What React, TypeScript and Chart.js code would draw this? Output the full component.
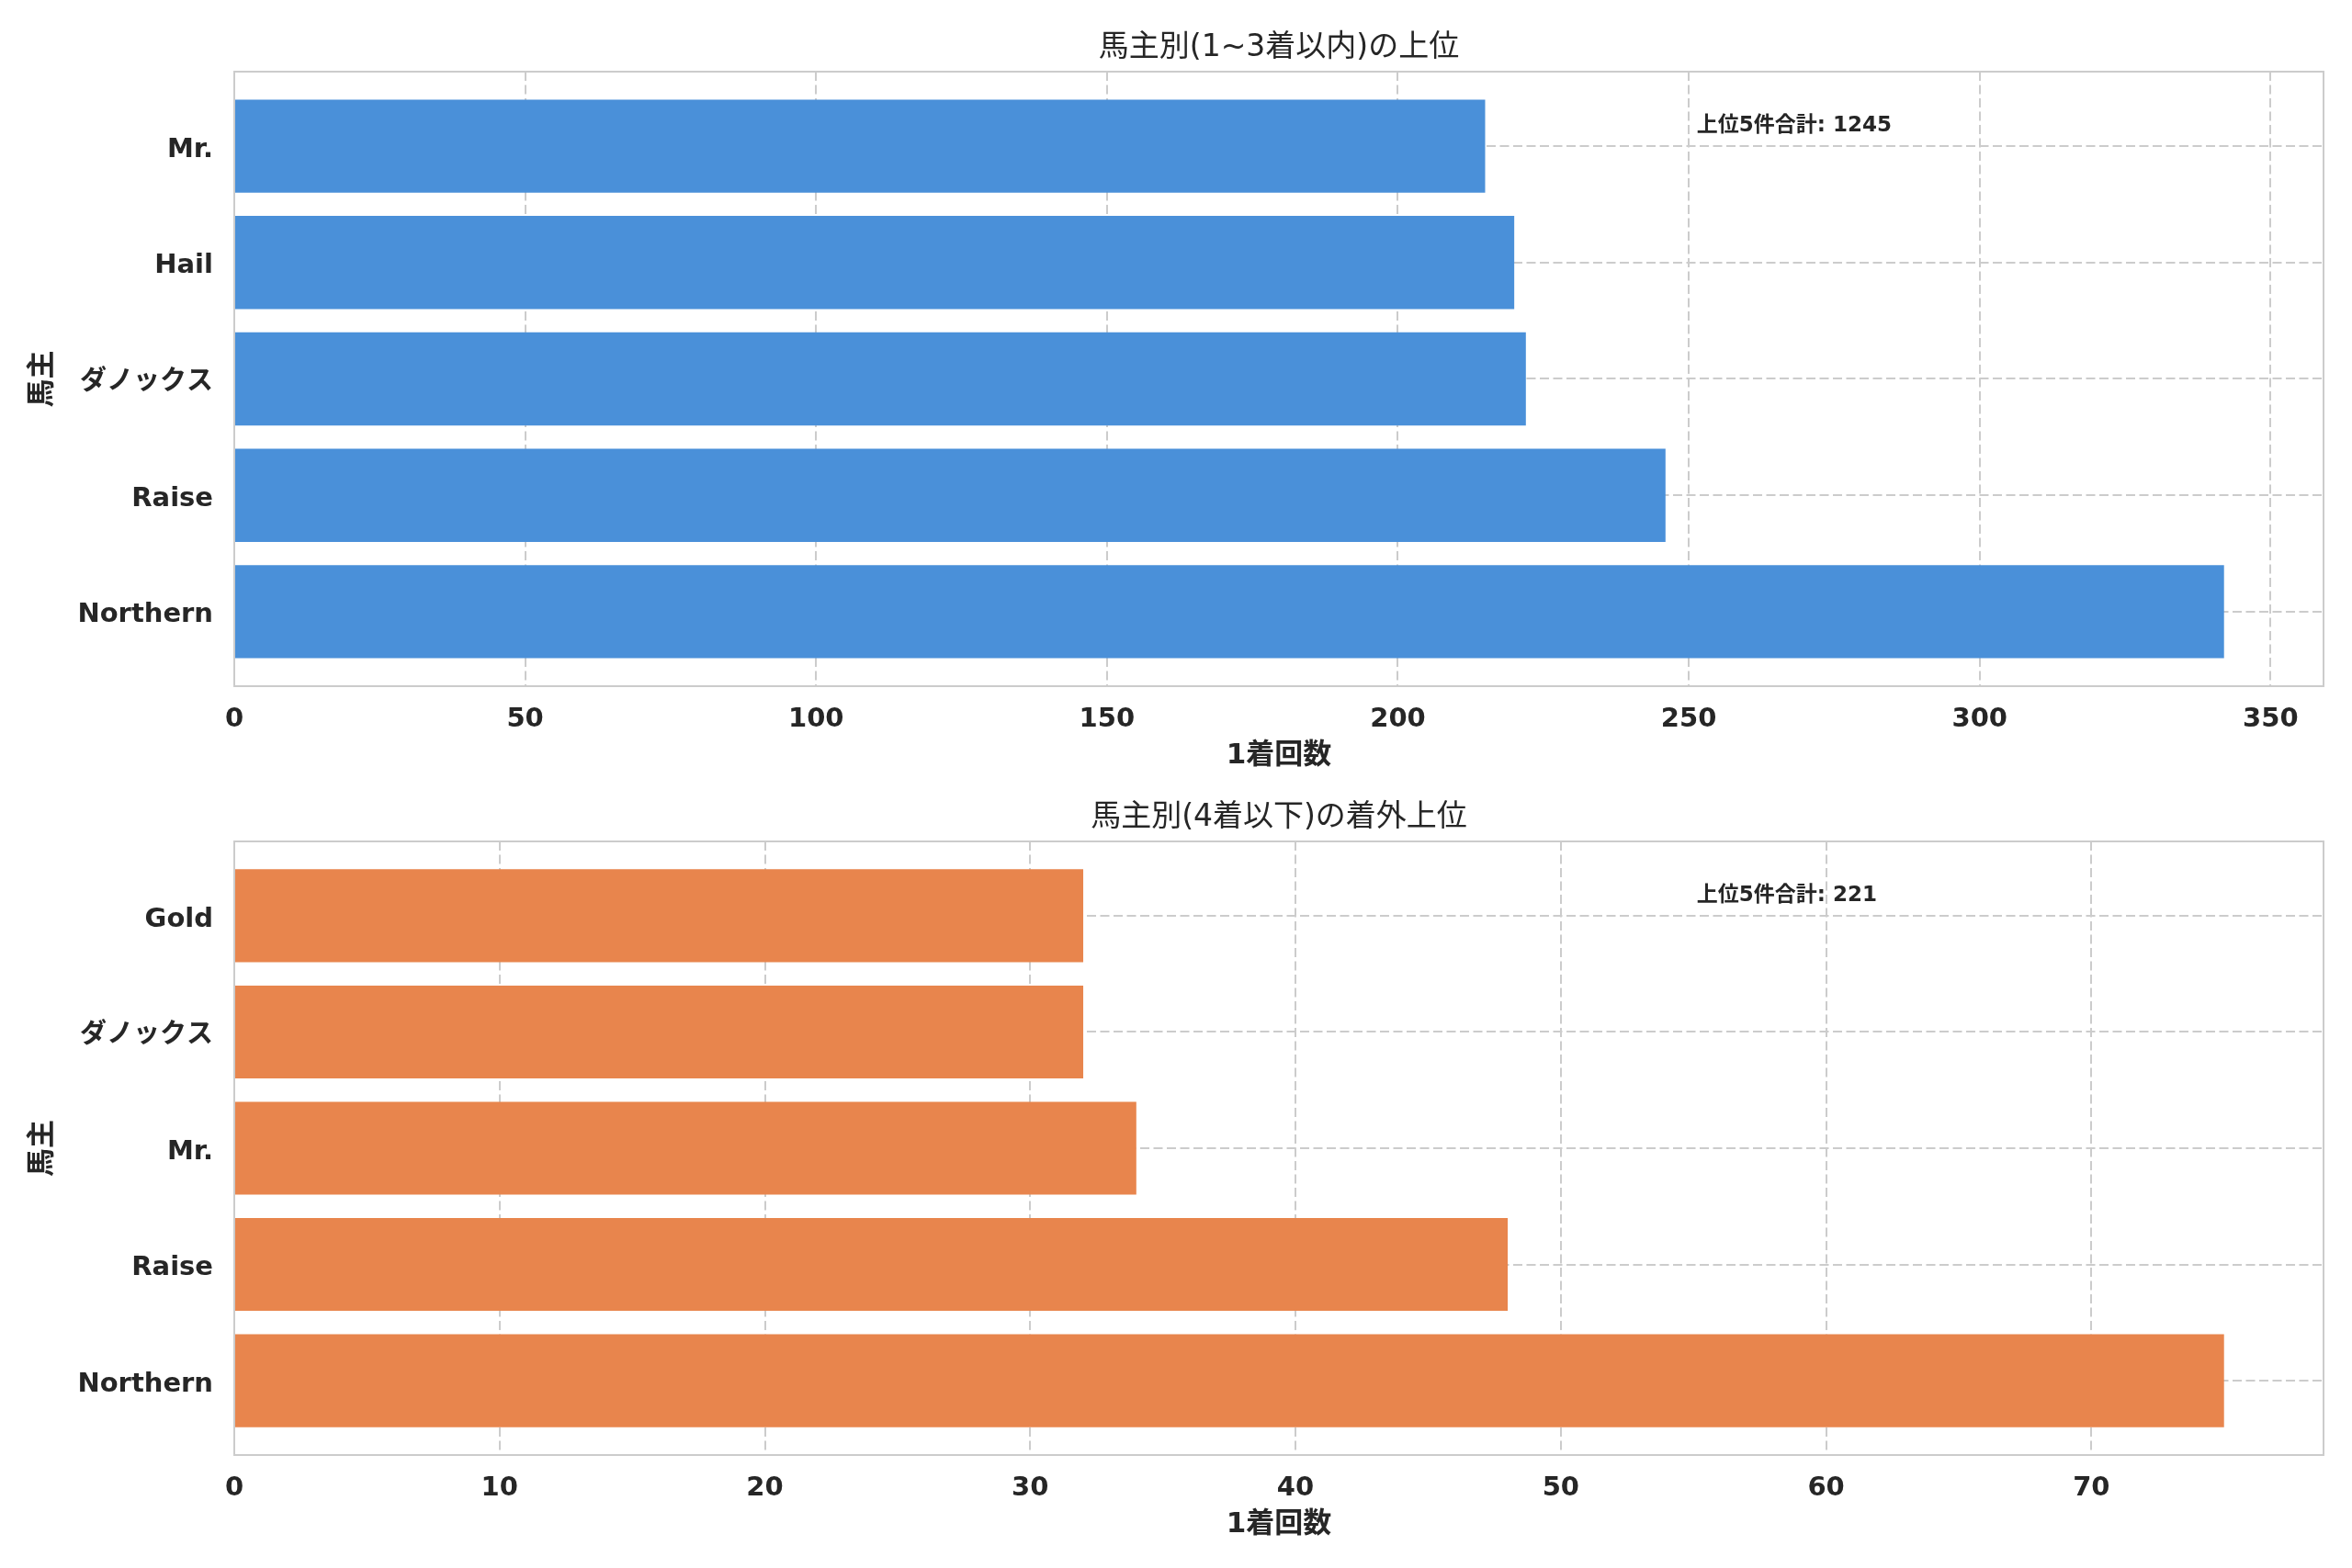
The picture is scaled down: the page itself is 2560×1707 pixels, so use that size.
import { useEffect, useRef } from 'react';
import { Chart, registerables } from 'chart.js';

Chart.register(...registerables);

const FONT = '"DejaVu Sans", "Noto Sans CJK JP", sans-serif';

// 上段: 1~3着
const topOwners = ['Northern', 'Raise', 'ダノックス', 'Hail', 'Mr.'];
const topCounts = [342, 246, 222, 220, 215];
const topTicks = [0, 50, 100, 150, 200, 250, 300, 350];
const topMax = 359.1;

// 下段: 4着以降
const lowOwners = ['Northern', 'Raise', 'Mr.', 'ダノックス', 'Gold'];
const lowCounts = [75, 48, 34, 32, 32];
const lowTicks = [0, 10, 20, 30, 40, 50, 60, 70];
const lowMax = 78.75;

const frame = {
  id: 'frame',
  afterDatasetsDraw(chart: any, _args: any, opts: any) {
    const { ctx, chartArea: a } = chart;
    ctx.save();
    ctx.strokeStyle = '#cccccc';
    ctx.lineWidth = 2;
    ctx.strokeRect(a.left, a.top, a.width, a.height);

    ctx.fillStyle = '#262626';
    ctx.font = `33px ${FONT}`;
    ctx.textAlign = 'center';
    ctx.textBaseline = 'alphabetic';
    ctx.fillText(opts.title, (a.left + a.right) / 2, a.top - 17);

    ctx.font = `bold 23px ${FONT}`;
    ctx.textAlign = 'left';
    ctx.textBaseline = 'middle';
    ctx.fillText(opts.note, a.left + 0.7 * a.width, a.top + 59);

    ctx.font = `bold 31px ${FONT}`;
    ctx.textAlign = 'center';
    ctx.fillText(opts.xTitle, (a.left + a.right) / 2, a.bottom + 76);

    ctx.translate(47, (a.top + a.bottom) / 2);
    ctx.rotate(-Math.PI / 2);
    ctx.fillText(opts.yTitle, 0, 0);
    ctx.restore();
  },
};

interface PanelProps {
  owners: string[];
  counts: number[];
  ticks: number[];
  max: number;
  color: string;
  title: string;
  note: string;
  top: number;
  height: number;
  padTop: number;
  axisHeight: number;
}

const Panel: React.FC<PanelProps> = ({ owners, counts, ticks, max, color, title, note, top, height, padTop, axisHeight }) => {
  const ref = useRef<HTMLCanvasElement>(null);

  useEffect(() => {
    if (!ref.current) return;
    const tickFont = { family: FONT, size: 29, weight: 'bold' as const };
    const chart = new Chart(ref.current, {
      type: 'bar',
      data: {
        datasets: [
          {
            data: counts.map((v, i) => ({ x: v, y: i })),
            backgroundColor: color,
            borderWidth: 0,
            barPercentage: 0.8,
            categoryPercentage: 1,
          },
        ],
      },
      options: {
        indexAxis: 'y',
        responsive: false,
        animation: false,
        layout: { padding: { top: padTop, right: 31, left: 0, bottom: 0 } },
        plugins: {
          legend: { display: false },
          tooltip: { enabled: false },
          frame: { title, note, xTitle: '1着回数', yTitle: '馬主' },
        } as any,
        scales: {
          x: {
            type: 'linear',
            min: 0,
            max,
            afterBuildTicks: (s: any) => {
              s.ticks = ticks.map((v) => ({ value: v }));
            },
            afterFit: (s: any) => {
              s.height = axisHeight;
            },
            grid: { color: '#cccccc', lineWidth: 2, drawTicks: false },
            border: { display: false, dash: [10, 4.5] },
            ticks: { color: '#262626', font: tickFont, padding: 19, maxRotation: 0 },
          },
          y: {
            type: 'linear',
            offset: false,
            min: -0.64,
            max: owners.length - 1 + 0.64,
            afterBuildTicks: (s: any) => {
              s.ticks = owners.map((_, i) => ({ value: i }));
            },
            afterFit: (s: any) => {
              s.width = 255;
            },
            grid: { color: '#cccccc', lineWidth: 2, drawTicks: false, offset: false },
            border: { display: false, dash: [10, 4.5] },
            ticks: {
              color: '#262626',
              font: tickFont,
              padding: 23,
              labelOffset: 4,
              autoSkip: false,
              callback: (v: any) => owners[Math.round(Number(v))] ?? '',
            },
          },
        },
      },
      plugins: [frame],
    });
    return () => chart.destroy();
  }, [owners, counts, ticks, max, color, title, note, padTop, axisHeight]);

  return (
    <canvas
      ref={ref}
      width={2560}
      height={height}
      style={{ position: 'absolute', left: 0, top, width: 2560, height }}
    />
  );
};

export default function App() {
  return (
    <div style={{ position: 'absolute', left: 0, top: 0, width: 2560, height: 1707, background: '#ffffff' }}>
      <Panel
        owners={topOwners}
        counts={topCounts}
        ticks={topTicks}
        max={topMax}
        color="#4a90d9"
        title="馬主別(1~3着以内)の上位"
        note="上位5件合計: 1245"
        top={0}
        height={853}
        padTop={78}
        axisHeight={106}
      />
      <Panel
        owners={lowOwners}
        counts={lowCounts}
        ticks={lowTicks}
        max={lowMax}
        color="#e8854d"
        title="馬主別(4着以下)の着外上位"
        note="上位5件合計: 221"
        top={853}
        height={854}
        padTop={63}
        axisHeight={123}
      />
    </div>
  );
}
